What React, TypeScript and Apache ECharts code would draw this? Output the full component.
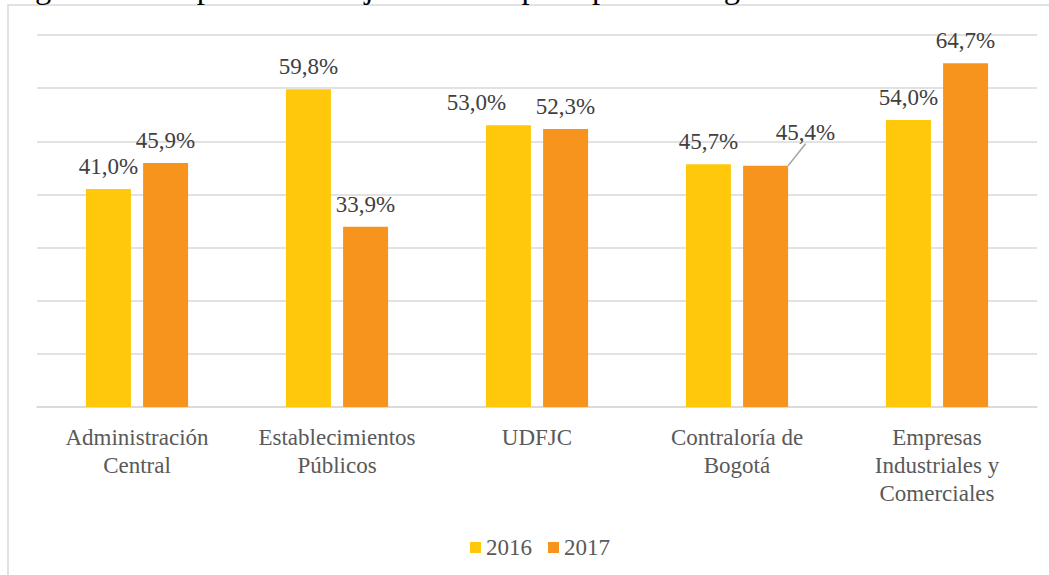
import React, { useEffect, useRef } from "react";
import * as echarts from "echarts";

const categories = [
  "Administración\nCentral",
  "Establecimientos\nPúblicos",
  "UDFJC",
  "Contraloría de\nBogotá",
  "Empresas\nIndustriales y\nComerciales",
];
const seriesNames = ["2016", "2017"];
const values2016 = [41.0, 59.8, 53.0, 45.7, 54.0];
const values2017 = [45.9, 33.9, 52.3, 45.4, 64.7];
const titleText = "Figura 6. Comparativo de ejecución de presupuesto de gastos";

const SERIF = "Liberation Serif";

export default function App() {
  const ref = useRef<HTMLDivElement>(null);
  useEffect(() => {
    if (!ref.current) return;
    const chart = echarts.init(ref.current, undefined, { renderer: "svg" });
    const fmt = (p: any) => `${Number(p.value).toFixed(1).replace(".", ",")}%`;
    const labelStyle = {
      show: true,
      position: "top",
      distance: 11,
      fontFamily: SERIF,
      fontSize: 23,
      color: "#404040",
      formatter: fmt,
    };
    chart.setOption({
      animation: false,
      backgroundColor: "#ffffff",
      textStyle: { fontFamily: SERIF },
      graphic: [
        {
          type: "rect",
          z: -10,
          shape: { x: 8, y: 5, width: 1100, height: 700 },
          style: { fill: "none", stroke: "#d9d9d9", lineWidth: 1.5 },
        },
        {
          type: "text",
          x: 8,
          y: -13,
          style: {
            text: titleText,
            fontFamily: SERIF,
            fontSize: 32.5,
            fill: "#000000",
            verticalAlign: "middle",
            align: "left",
          },
        },
      ],
      legend: {
        data: seriesNames,
        left: 465,
        top: 531,
        itemWidth: 11,
        itemHeight: 11,
        itemGap: 16,
        icon: "rect",
        textStyle: { fontFamily: SERIF, fontSize: 23, color: "#595959" },
      },
      grid: { left: 37, right: 12, top: 35, bottom: 168 },
      xAxis: {
        type: "category",
        data: categories,
        axisLine: { lineStyle: { color: "#d9d9d9", width: 1.5 } },
        axisTick: { show: false },
        axisLabel: {
          interval: 0,
          margin: 16,
          fontFamily: SERIF,
          fontSize: 23,
          lineHeight: 28,
          color: "#595959",
        },
      },
      yAxis: {
        type: "value",
        min: 0,
        max: 70,
        interval: 10,
        axisLabel: { show: false },
        axisLine: { show: false },
        axisTick: { show: false },
        splitLine: { lineStyle: { color: "#d9d9d9", width: 1.5 } },
      },
      series: [
        {
          name: seriesNames[0],
          type: "bar",
          barWidth: 45,
          barGap: "27%",
          itemStyle: { color: "#FFC80B" },
          label: labelStyle,
          labelLayout: (params: any) =>
            params.dataIndex === 2 ? { dx: -32 } : {},
          data: values2016,
        },
        {
          name: seriesNames[1],
          type: "bar",
          barWidth: 45,
          barGap: "27%",
          itemStyle: { color: "#F7941E" },
          label: labelStyle,
          labelLayout: (params: any) =>
            params.dataIndex === 3 ? { dx: 40, dy: -11 } : {},
          data: values2017.map((v, i) =>
            i === 3
              ? {
                  value: v,
                  labelLine: {
                    show: true,
                    lineStyle: { color: "#a6a6a6", width: 1.5 },
                  },
                }
              : v
          ),
        },
      ],
    });
    return () => chart.dispose();
  }, []);
  return (
    <div
      ref={ref}
      style={{ position: "absolute", left: 0, top: 0, width: 1049, height: 575 }}
    />
  );
}
